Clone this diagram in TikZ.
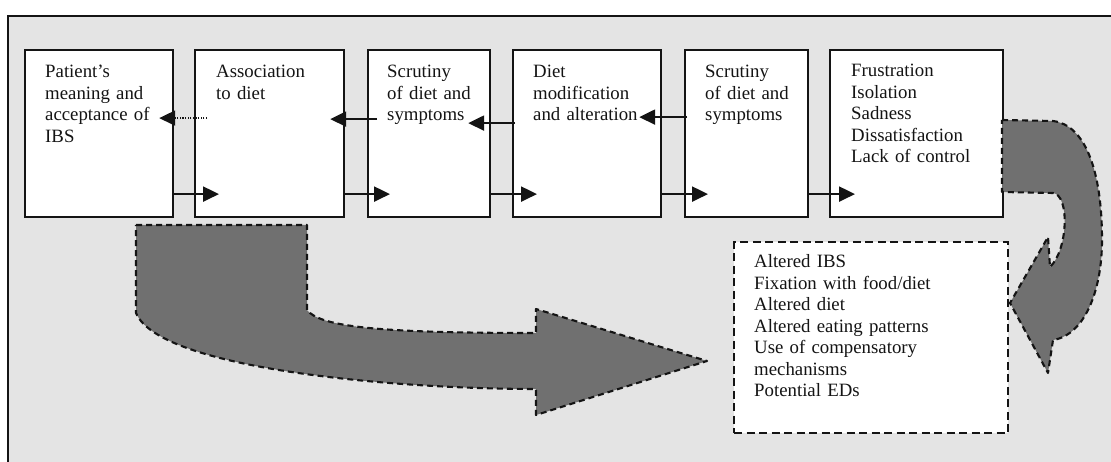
\documentclass[tikz,border=0pt]{standalone}
\usepackage{fontspec}
\setmainfont{Liberation Serif}
\usetikzlibrary{arrows.meta,calc}
\definecolor{panel}{RGB}{228,228,228}
\definecolor{shapegray}{RGB}{112,112,112}
\definecolor{ink}{RGB}{20,20,20}
\tikzset{
  stepbox/.style={draw=ink,line width=2.2pt,fill=white,minimum width=#1,inner sep=0pt,minimum height=167pt,anchor=north west},
  boxtext/.style={anchor=base west,inner sep=0pt,text width=220pt,align=left,text=ink,font=\fontsize{18.8}{21.5}\selectfont},
  flowarrow/.style={draw=ink,line width=2.2pt,-{Triangle[length=16pt,width=15pt]}},
  dotarrow/.style={draw=ink,line width=1.8pt,dash pattern=on 1.3pt off 1.3pt,-{Triangle[length=16pt,width=15pt]}},
  bigshape/.style={fill=shapegray,draw=ink,line width=2.1pt,dash pattern=on 6pt off 4pt,line join=round},
  outbox/.style={draw=ink,line width=2.1pt,dash pattern=on 8pt off 4.5pt,fill=white,inner sep=0pt,anchor=north west,minimum width=274pt,minimum height=191pt}
}
\begin{document}
\begin{tikzpicture}[x=1pt,y=-1pt]
\useasboundingbox (0,0) rectangle (1111,462);
\fill[white] (0,0) rectangle (1111,462);
\fill[panel] (8,16) rectangle (1111,462);
\draw[ink,line width=1.8pt] (8,462) -- (8,16) -- (1111,16);

% boxes
\node[stepbox=148pt] (b1) at (24,49) {};
\node[stepbox=149pt] (b2) at (194,49) {};
\node[stepbox=122pt] (b3) at (367,49) {};
\node[stepbox=148pt] (b4) at (512,49) {};
\node[stepbox=123pt] (b5) at (684,49) {};
\node[stepbox=173pt] (b6) at (829,49) {};

% texts
\node[boxtext] (t1) at (45,78) {Patient’s\\meaning and\\acceptance of\\IBS};
\node[boxtext] (t2) at (216,78) {Association\\to diet};
\node[boxtext] (t3) at (387,78) {Scrutiny\\of diet and\\symptoms};
\node[boxtext] (t4) at (533,78) {Diet\\modification\\and alteration};
\node[boxtext] (t5) at (705,78) {Scrutiny\\of diet and\\symptoms};
\node[boxtext] (t6) at (851,77) {Frustration\\Isolation\\Sadness\\Dissatisfaction\\Lack of control};

% forward arrows
\draw[flowarrow] ($(b1.east)+(0,60.5)$) -- ($(b2.west)+(25,60.5)$);
\draw[flowarrow] ($(b2.east)+(0,60.5)$) -- ($(b3.west)+(23,60.5)$);
\draw[flowarrow] ($(b3.east)+(0,60.5)$) -- ($(b4.west)+(25,60.5)$);
\draw[flowarrow] ($(b4.east)+(0,60.5)$) -- ($(b5.west)+(24,60.5)$);
\draw[flowarrow] ($(b5.east)+(0,60.5)$) -- ($(b6.west)+(26,60.5)$);

% backward arrows
\draw[dotarrow] ($(b2.west)+(13,-15.5)$) -- ($(b1.east)+(-15,-15.5)$);
\draw[flowarrow] ($(b3.west)+(10,-14.5)$) -- ($(b2.east)+(-15,-14.5)$);
\draw[flowarrow] ($(b4.west)+(3,-10.5)$) -- ($(b3.east)+(-23,-10.5)$);
\draw[flowarrow] ($(b5.west)+(3,-16.5)$) -- ($(b4.east)+(-23,-16.5)$);

% big curved arrow (left)
\path[bigshape] (136,225) -- (307,225) -- (307,310)
  .. controls (320,327) and (380,333) .. (536,333)
  -- (536,309) -- (707,361) -- (536,415) -- (536,389)
  .. controls (400,389) and (160,370) .. (136,313) -- cycle;

% outcome box
\node[outbox] (d) at (733,241) {};
\node[boxtext] (td) at (754,268) {Altered IBS\\Fixation with food/diet\\Altered diet\\Altered eating patterns\\Use of compensatory\\mechanisms\\Potential EDs};

% right curved arrow
\path[bigshape] (1002,120) -- (1053,121)
  .. controls (1085,125) and (1102,170) .. (1102,240)
  .. controls (1102,290) and (1085,335) .. (1053,340)
  -- (1048,373) -- (1010,303) -- (1048,237) -- (1050,267)
  .. controls (1068,250) and (1070,195) .. (1053,193)
  -- (1002,192) -- cycle;
\end{tikzpicture}
\end{document}
